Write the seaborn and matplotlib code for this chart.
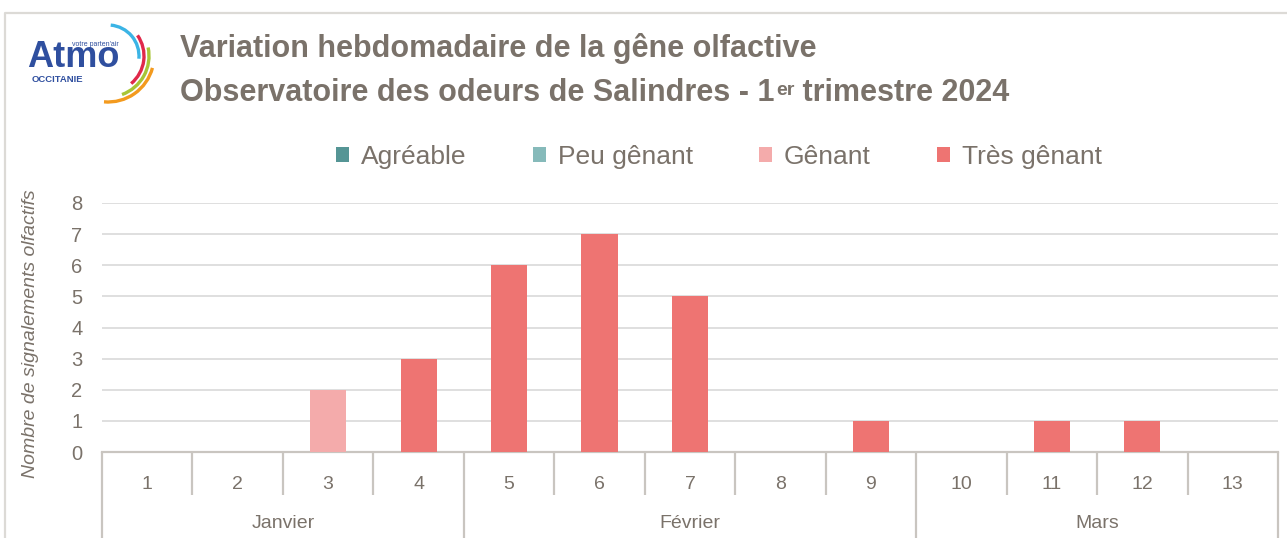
import numpy as np
import pandas as pd
import matplotlib
matplotlib.use("Agg")
import matplotlib.pyplot as plt
import matplotlib.transforms as mtransforms
from matplotlib.patches import Patch, Arc
import seaborn as sns

# ---------------- data ----------------
weeks = ["1", "2", "3", "4", "5", "6", "7", "8", "9", "10", "11", "12", "13"]
months = ["Janvier", "Février", "Mars"]
month_weeks = [4, 5, 4]
series = ["Agréable", "Peu gênant", "Gênant", "Très gênant"]
agreable = [0, 0, 0, 0, 0, 0, 0, 0, 0, 0, 0, 0, 0]
peu_genant = [0, 0, 0, 0, 0, 0, 0, 0, 0, 0, 0, 0, 0]
genant = [0, 0, 2, 0, 0, 0, 0, 0, 0, 0, 0, 0, 0]
tres_genant = [0, 0, 0, 3, 6, 7, 5, 0, 1, 0, 1, 1, 0]
yticks = [0, 1, 2, 3, 4, 5, 6, 7, 8]

colors = ["#559595", "#86BABA", "#F4ABAB", "#EE7472"]
TXT = "#7A726A"
GRID = "#D9D9D9"
AXL = "#C9C5C0"

sns.set_style("white")
FONT = ["Liberation Sans", "DejaVu Sans"]
plt.rcParams["font.family"] = FONT

W, H = 1287, 538
fig = plt.figure(figsize=(W / 100, H / 100), dpi=100)

# background overlay in pixel coordinates (border + logo)
bg = fig.add_axes([0, 0, 1, 1], zorder=0)
bg.set_xlim(0, W)
bg.set_ylim(0, H)
bg.axis("off")
bg.patch.set_alpha(0)
bg.plot([5, 5, W], [0, H - 13, H - 13], color="#DCDAD6", lw=1.6, solid_capstyle="butt")

# logo
BLUE = "#2F4F9F"
bg.text(73, H - 67, "Atmo", color=BLUE, fontsize=26, fontweight="bold",
        ha="center", va="baseline")
bg.text(57, H - 82, "OCCITANIE", color=BLUE, fontsize=6.8, fontweight="bold",
        ha="center", va="baseline")
bg.text(95, H - 45.5, "votre parten'air", color=BLUE, fontsize=5.0,
        ha="center", va="baseline")
cx, cy = 108, H - 56
for r, a1, a2, c in [(31, -5, 85, "#3BB4E5"), (36, -50, 35, "#E0284A"),
                     (41, -70, 12, "#A8C536"), (46, -95, -15, "#F39A1E")]:
    bg.add_patch(Arc((cx, cy), 2 * r, 2 * r, theta1=a1, theta2=a2, color=c, lw=2.4))

# title
t1 = fig.text(180 / W, 1 - 57.5 / H, "Variation hebdomadaire de la gêne olfactive",
              fontsize=22, fontweight="bold", color=TXT, ha="left", va="baseline")
t2 = fig.text(180 / W, 1 - 101 / H, "Observatoire des odeurs de Salindres - 1",
              fontsize=22, fontweight="bold", color=TXT, ha="left", va="baseline")
t3 = bg.annotate("er", xy=(1, 1), xycoords=t2, xytext=(1, -3), textcoords="offset points",
                 fontsize=14, fontweight="bold", color=TXT, ha="left", va="top")
t4 = bg.annotate(" trimestre 2024", xy=(1, 0), xycoords=(t3, t2),
                 fontsize=22, fontweight="bold", color=TXT, ha="left", va="bottom")

# ---------------- main axes ----------------
L, R, B, T = 102, 1278, 452, 203
ax = fig.add_axes([L / W, 1 - B / H, (R - L) / W, (B - T) / H], zorder=2)
ax.patch.set_alpha(0)

vals = np.array([agreable, peu_genant, genant, tres_genant], dtype=float)
cum = np.cumsum(vals, axis=0)
for i in reversed(range(len(series))):
    sns.barplot(x=weeks, y=cum[i], order=weeks, color=colors[i], width=0.4,
                errorbar=None, linewidth=0, saturation=1, ax=ax, zorder=3)

ax.set_xlim(-0.5, len(weeks) - 0.5)
ax.set_ylim(0, 8)
ax.set_yticks(yticks)
ax.set_yticklabels([str(v) for v in yticks], fontsize=14.5, color=TXT)
ax.yaxis.grid(True, color=GRID, lw=1.2, zorder=0)
ax.set_axisbelow(True)
ax.tick_params(axis="y", length=0, pad=14)
ax.set_xticks(range(len(weeks)))
ax.set_xticklabels(weeks, fontsize=14, color=TXT)
ax.tick_params(axis="x", length=0, pad=17)
for s in ["top", "right", "left"]:
    ax.spines[s].set_visible(False)
ax.spines["bottom"].set_color(AXL)
ax.spines["bottom"].set_linewidth(1.6)
ax.set_xlabel("")
ax.set_ylabel("Nombre de signalements olfactifs", fontsize=14, color=TXT, style="italic")
ax.yaxis.set_label_coords((39 - L) / (R - L), (B - 334) / (B - T))

# category separators (two-level axis)
trans = mtransforms.blended_transform_factory(ax.transData, ax.transAxes)
px = 1.0 / (B - T)
week_bottom = -(495 - B) * px
month_bottom = -(H + 5 - B) * px
bounds = np.cumsum([0] + month_weeks) - 0.5
for k in range(len(weeks) + 1):
    xb = k - 0.5
    yb = month_bottom if np.any(np.isclose(bounds, xb)) else week_bottom
    ax.plot([xb, xb], [0, yb], transform=trans, color=AXL, lw=1.6, clip_on=False,
            solid_capstyle="butt")
for m, a, b in zip(months, bounds[:-1], bounds[1:]):
    ax.text((a + b) / 2, -(523 - B) * px, m, transform=trans, ha="center", va="center",
            fontsize=14, color=TXT)

# legend
handles = [Patch(facecolor=c, edgecolor="none") for c in colors]
fig.legend(handles, series, loc="center", bbox_to_anchor=(719 / W, 1 - 157 / H), ncol=4,
           frameon=False, fontsize=19, labelcolor=TXT, handlelength=0.5, handleheight=0.5,
           handletextpad=0.45, columnspacing=2.5)

fig.savefig("out.png", dpi=100)
